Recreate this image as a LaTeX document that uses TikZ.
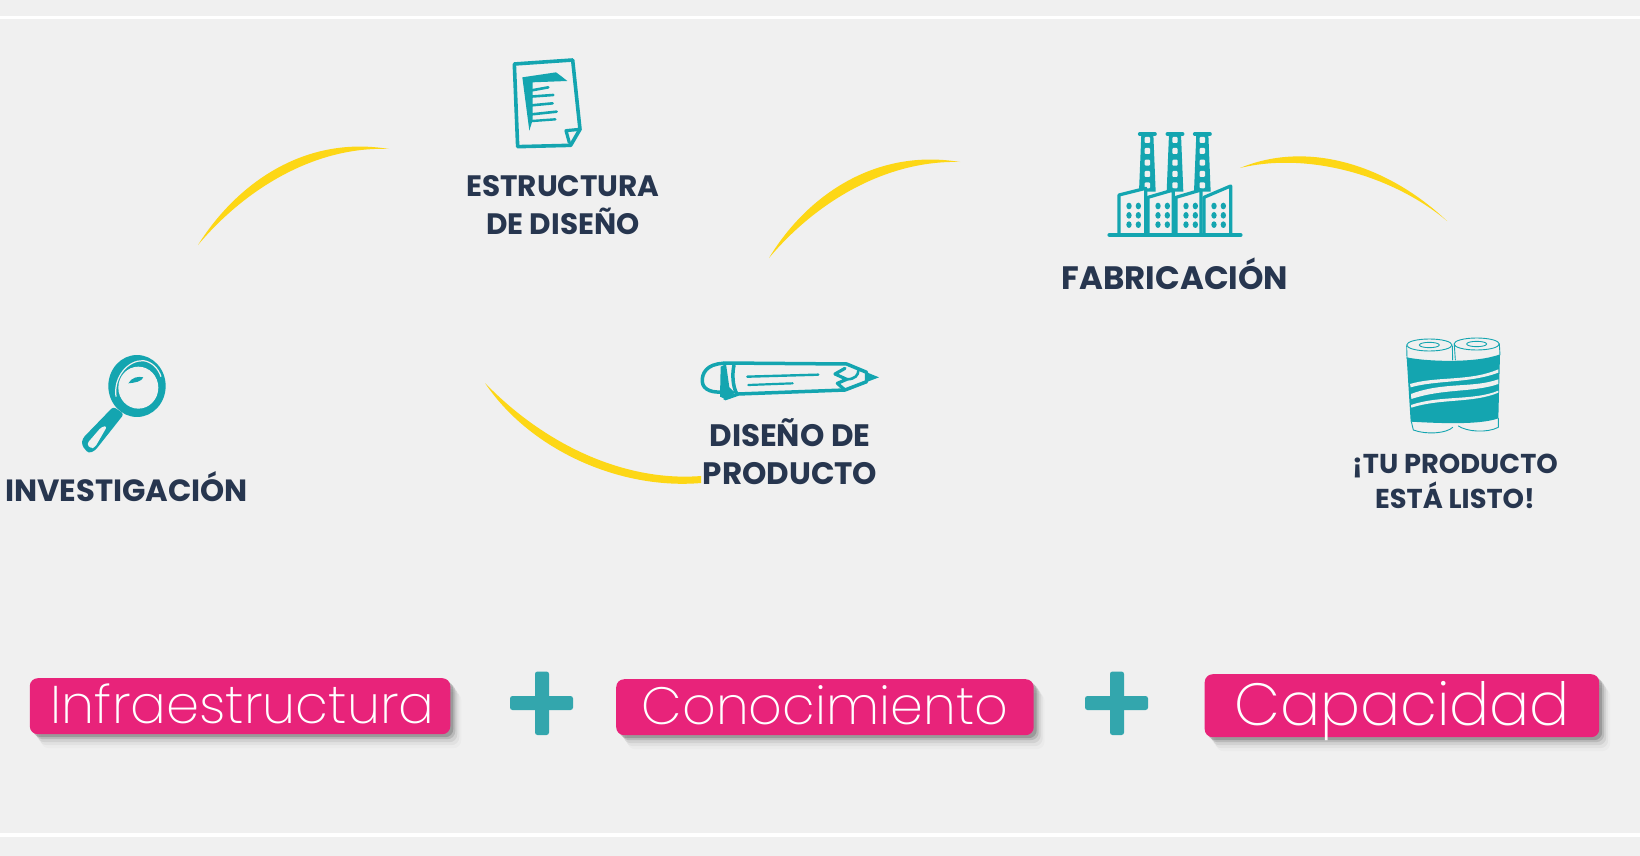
\documentclass[tikz,border=0pt]{standalone}
\usepackage{fontspec}
\setmainfont{Poppins}
\newfontfamily\pillfont{Poppins ExtraLight}
\usetikzlibrary{shadows}
\definecolor{fondo}{HTML}{F0F0F0}
\definecolor{petroleo}{HTML}{14A5B0}
\definecolor{marino}{HTML}{27364F}
\definecolor{amarillo}{HTML}{FDD716}
\definecolor{rosa}{HTML}{E8237A}
\definecolor{cruz}{HTML}{33A6AD}
\begin{document}
\begin{tikzpicture}
        [
           x=1pt,y=-1pt,
           etapa/.style={text=marino,align=center,inner sep=0pt},
           pastilla/.style={fill=rosa,text=white,rounded corners=8pt,inner sep=0pt,anchor=north west,
               drop shadow={shadow xshift=3pt,shadow yshift=-3pt,fill=black,opacity=.16},
               drop shadow={shadow xshift=5pt,shadow yshift=-5pt,fill=black,opacity=.11},
               drop shadow={shadow xshift=7pt,shadow yshift=-8pt,fill=black,opacity=.07},
               drop shadow={shadow xshift=9pt,shadow yshift=-11pt,fill=black,opacity=.04},
               drop shadow={shadow xshift=11pt,shadow yshift=-14pt,fill=black,opacity=.02}},
           trazo/.style={draw=petroleo,line cap=round,line join=round},
           icono/.style={x=0.3333pt,y=-0.3333pt},
           curva/.style={fill=amarillo}
        ]
        \fill[fondo] (0,0) rectangle (1640,856);
        \useasboundingbox (0,0) rectangle (1640,856);
        \fill[white] (0,16) rectangle (1640,19.5);
        \fill[white] (0,833) rectangle (1640,837);

        \coordinate (curvaAini) at (198,245);
        \coordinate (curvaAfin) at (389,149);
        \coordinate (curvaBini) at (769,258);
        \coordinate (curvaBfin) at (960,162);
        \coordinate (curvaCini) at (1240,168);
        \coordinate (curvaCfin) at (1447,221);
        \coordinate (curvaDini) at (485,383);
        \coordinate (curvaDfin) at (701,483);
        \fill[curva] (curvaAini) .. controls (237,183) and (305,135) .. (curvaAfin)
            .. controls (315,146) and (245,189) .. (curvaAini);
        \fill[curva] (curvaBini) .. controls (807,195) and (876,148) .. (curvaBfin)
            .. controls (886,160) and (816,202) .. (curvaBini);
        \fill[curva] (curvaCini) .. controls (1310,139) and (1390,167) .. (curvaCfin)
            .. controls (1395,177) and (1310,151) .. (curvaCini);
        \fill[curva] (curvaDini) .. controls (530,450) and (620,490) .. (curvaDfin)
            -- (701,476) .. controls (625,482) and (545,445) .. (curvaDini);

        \node[etapa,font=\fontsize{30.7}{38}\selectfont\bfseries] (investigacion) at (126.5,487) {INVESTIGACIÓN};
        \node[etapa,font=\fontsize{29.5}{38}\selectfont\bfseries] (estructura) at (563,205) {ESTRUCTURA\\DE DISEÑO};
        \node[etapa,font=\fontsize{31}{38.5}\selectfont\bfseries] (producto) at (790,451.5) {DISEÑO DE\\PRODUCTO};
        \node[etapa,font=\fontsize{32.4}{38}\selectfont\bfseries] (fabricacion) at (1175,274) {FABRICACIÓN};
        \node[etapa,font=\fontsize{27.3}{35.5}\selectfont\bfseries] (listo) at (1455,481.5) {¡TU PRODUCTO\\ESTÁ LISTO!};

        \node[pastilla,minimum width=420.5pt,minimum height=56pt,text height=45.3pt,text depth=10.7pt,font=\fontsize{53}{53}\selectfont\pillfont] (infra) at (29.6,678) {\hspace*{5pt}Infraestructura};
        \node[pastilla,minimum width=417.5pt,minimum height=56pt,text height=45pt,text depth=11pt,font=\fontsize{52.5}{52.5}\selectfont\pillfont] (conocimiento) at (616,679) {Conocimiento};
        \node[pastilla,minimum width=394.5pt,minimum height=63pt,text height=51pt,text depth=12pt,font=\fontsize{59.5}{59.5}\selectfont\pillfont] (capacidad) at (1204.5,674) {Capacidad};

        \fill[cruz,rounded corners=2.5pt] (535,671.5) rectangle (549,735);
        \fill[cruz,rounded corners=2.5pt] (510,696) rectangle (573,710);
        \fill[cruz,rounded corners=2.5pt] (1110,671.5) rectangle (1124,735);
        \fill[cruz,rounded corners=2.5pt] (1085,696) rectangle (1148,710);

        \begin{scope}[shift={(60,340)},icono]
            \fill[petroleo] (231,138) ellipse [x radius=86,y radius=93];
            \fill[fondo] (235,143) ellipse [x radius=60,y radius=63];
            \draw[fondo,line width=1.2pt] (168,170) .. controls (160,110) and (205,60) .. (250,62) .. controls (275,65) and (295,85) .. (303,110);
            \fill[petroleo] (205,130) .. controls (215,112) and (235,108) .. (250,112) .. controls (245,125) and (225,128) .. (205,130);
            \fill[petroleo,rounded corners=3pt] (160,200) -- (68,295) -- (65,315) -- (85,340) -- (105,332) -- (192,222) -- cycle;
            \fill[fondo,rounded corners=3pt] (80,312) -- (125,260) -- (142,258) -- (105,322) -- (92,326) -- cycle;
        \end{scope}

        \begin{scope}[shift={(480,40)},icono]
            \draw[trazo,line width=3.6pt] (103,72) -- (278,60) -- (300,268) -- (272,316) -- (113,320) -- cycle;
            \draw[trazo,line width=3.2pt] (300,268) -- (258,272) -- (268,308);
            \fill[petroleo] (127,112) -- (228,97) -- (243,108) -- (262,123) -- (158,127) -- (158,240) -- (148,272) -- cycle;
            \draw[trazo,line width=2.6pt] (150,152) -- (205,142);
            \draw[trazo,line width=2.6pt] (150,170) -- (220,165);
            \draw[trazo,line width=2.6pt] (155,196) -- (218,190);
            \draw[trazo,line width=2.6pt] (155,223) -- (230,215);
            \draw[trazo,line width=2.4pt] (157,243) -- (226,238);
        \end{scope}

        \begin{scope}[shift={(1080,110)},icono]
            \foreach \cx in {202,285,367}{
                \fill[petroleo] (\cx-18,72) -- (\cx+18,72) -- (\cx+25,245) -- (\cx-25,245) -- cycle;
                \draw[trazo,line width=3.6pt] (\cx-23,72) -- (\cx+23,72);
                \foreach \wy in {90,123,158,192,226}{
                    \fill[fondo,rounded corners=1pt] (\cx-8,\wy-9) rectangle (\cx+8,\wy+9);
                }
            }
            \foreach \xa/\ya/\xb/\yb in {117/255/197/235,204/262/280/240,288/262/363/240,372/262/452/228}{
                \draw[trazo,fill=fondo,line width=3.2pt] (\xa,375) -- (\xa,\ya) -- (\xb,\yb) -- (\xb,375);
                \foreach \wy in {288,316,344}{
                    \fill[petroleo] (\xa+30,\wy) ellipse [x radius=8,y radius=10];
                    \fill[petroleo] (\xa+58,\wy) ellipse [x radius=8,y radius=10];
                }
            }
            \draw[trazo,line width=3.8pt] (88,375) -- (482,375);
        \end{scope}

        \begin{scope}[shift={(690,340)},icono]
            \fill[petroleo] (92,80) -- (108,72) -- (118,142) -- (135,158) -- (108,178) -- (90,170) -- cycle;
            \fill[petroleo] (525,95) -- (567,112) -- (525,128) -- cycle;
            \draw[trazo,line width=3.5pt] (100,70) .. controls (50,72) and (35,100) .. (37,125) .. controls (38,150) and (70,160) .. (100,155);
            \draw[trazo,line width=3.5pt] (100,69) -- (470,72) -- (530,97);
            \draw[trazo,line width=3.5pt] (105,176) -- (145,162) -- (465,150) -- (530,125);
            \draw[trazo,line width=3.5pt] (132,76) .. controls (126,100) and (128,140) .. (140,160);
            \draw[trazo,line width=3.2pt] (465,85) -- (435,102) -- (470,118) -- (442,130) -- (465,150);
            \draw[trazo,line width=2.6pt] (470,118) .. controls (495,118) and (505,105) .. (505,92);
            \draw[trazo,line width=2.4pt] (172,110) -- (385,104);
            \draw[trazo,line width=2.2pt] (175,135) -- (308,130);
        \end{scope}

        \begin{scope}[shift={(1380,320)},icono]
            \fill[petroleo] (80,112) .. controls (140,125) and (290,130) .. (360,103) -- (355,295) .. controls (300,315) and (180,310) .. (92,305) -- cycle;
            \fill[fondo] (90,192) .. controls (170,168) and (270,185) .. (355,148) -- (355,158) .. controls (270,190) and (170,180) .. (92,202) -- cycle;
            \fill[fondo] (93,222) .. controls (190,185) and (280,205) .. (355,178) -- (355,192) .. controls (280,218) and (190,205) .. (94,237) -- cycle;
            \fill[fondo] (93,255) .. controls (180,225) and (280,243) .. (355,212) -- (355,218) .. controls (280,250) and (180,235) .. (94,263) -- cycle;
            \draw[trazo,line width=0.9pt] (148,75) ellipse [x radius=68,y radius=18];
            \draw[trazo,line width=0.9pt] (148,75) ellipse [x radius=30,y radius=8];
            \draw[trazo,line width=0.9pt] (290,72) ellipse [x radius=68,y radius=18];
            \draw[trazo,line width=0.9pt] (290,72) ellipse [x radius=30,y radius=8];
            \draw[trazo,line width=0.9pt] (80,78) -- (81,115);
            \draw[trazo,line width=0.9pt] (217,78) -- (218,120);
            \draw[trazo,line width=0.9pt] (223,75) -- (226,120);
            \draw[trazo,line width=0.9pt] (358,72) -- (360,105);
            \draw[trazo,line width=0.9pt] (94,305) -- (100,330) .. controls (140,345) and (200,340) .. (218,322);
            \draw[trazo,line width=0.9pt] (235,318) .. controls (260,335) and (320,340) .. (355,322) -- (355,295);
        \end{scope}
    \end{tikzpicture}
\end{document}
